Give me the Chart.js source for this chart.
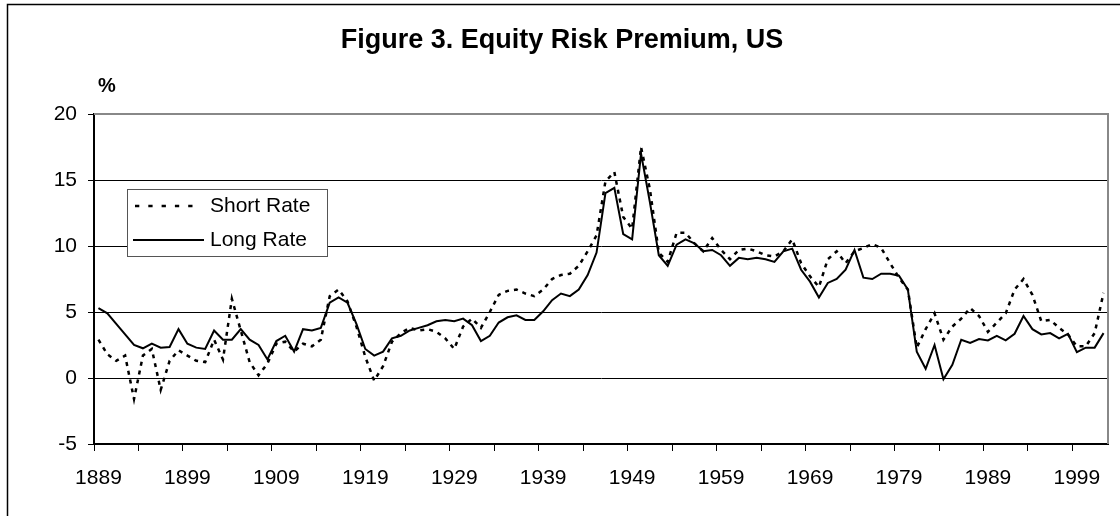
<!DOCTYPE html>
<html>
<head>
<meta charset="utf-8">
<script src="https://cdn.jsdelivr.net/npm/chart.js@4/dist/chart.umd.min.js"></script>
<style>
  html, body { margin: 0; padding: 0; background: #fff; }
  #wrap { width: 1120px; height: 516px; position: relative; }
</style>
</head>
<body>
<div id="wrap"><canvas id="erp" width="1120" height="516"></canvas></div>
<script>
// years on the category axis, 1889 .. 2002
const firstYear = 1889;
const lastYear = 2002;
const years = [];
for (let y = firstYear; y <= lastYear; y++) years.push(String(y));

const yTicks = [-5, 0, 5, 10, 15, 20];

// equity risk premium over short rate (%)
const shortRate = [
	2.9, 1.8, 1.3, 1.7, -1.6, 1.7, 2.2, -0.9, 1.3, 2.1,
	1.7, 1.3, 1.2, 2.9, 1.4, 6.0, 3.6, 1.2, 0.2, 1.1,
	2.6, 2.75, 2.0, 2.6, 2.4, 2.9, 6.2, 6.7, 5.8, 3.9,
	1.6, -0.2, 0.9, 2.75, 3.4, 3.8, 3.6, 3.7, 3.5, 3.0,
	2.2, 3.9, 4.5, 3.8, 5.0, 6.3, 6.6, 6.7, 6.4, 6.2,
	6.7, 7.5, 7.8, 7.9, 8.5, 9.6, 10.8, 14.9, 15.6, 12.2,
	11.3, 17.5, 14.3, 9.5, 8.8, 11.0, 11.0, 10.2, 9.6, 10.6,
	9.7, 9.0, 9.7, 9.8, 9.6, 9.3, 9.2, 9.6, 10.5, 8.7,
	7.7, 6.9, 9.0, 9.6, 8.7, 9.6, 9.85, 10.15, 9.85, 8.7,
	7.6, 6.7, 2.3, 3.7, 4.9, 2.9, 3.9, 4.5, 5.3, 4.7,
	3.5, 4.2, 4.9, 6.7, 7.5, 6.3, 4.3, 4.4, 3.8, 3.3,
	2.4, 2.4, 3.4, 6.45
];

// equity risk premium over long rate (%)
const longRate = [
	5.3, 4.9, 4.1, 3.3, 2.5, 2.25, 2.6, 2.3, 2.35, 3.7,
	2.6, 2.3, 2.2, 3.6, 2.9, 2.9, 3.7, 2.9, 2.5, 1.4,
	2.8, 3.2, 2.0, 3.7, 3.6, 3.8, 5.7, 6.1, 5.7, 4.1,
	2.2, 1.7, 2.0, 3.0, 3.2, 3.6, 3.8, 4.0, 4.3, 4.4,
	4.3, 4.5, 4.0, 2.8, 3.2, 4.2, 4.6, 4.75, 4.4, 4.4,
	5.05, 5.9, 6.4, 6.2, 6.7, 7.8, 9.5, 14.0, 14.4, 10.9,
	10.5, 17.0, 13.3, 9.3, 8.5, 10.1, 10.5, 10.2, 9.6, 9.7,
	9.3, 8.5, 9.1, 9.0, 9.1, 9.0, 8.8, 9.6, 9.8, 8.2,
	7.3, 6.1, 7.2, 7.5, 8.2, 9.7, 7.6, 7.5, 7.9, 7.9,
	7.75, 6.7, 2.0, 0.7, 2.5, -0.1, 1.0, 2.9, 2.65, 2.95,
	2.85, 3.2, 2.85, 3.35, 4.7, 3.7, 3.3, 3.4, 3.0, 3.35,
	1.95, 2.3, 2.3, 3.4
];

const seriesNames = ["Short Rate", "Long Rate"];
const titleText = "Figure 3. Equity Risk Premium, US";
const unitText = "%";

const font = "'Liberation Sans', Arial, sans-serif";

// frame, title, unit label, plot border and legend box
const decorations = {
	id: "decorations",
	beforeDraw(chart) {
		const ctx = chart.ctx;
		ctx.save();
		ctx.fillStyle = "#fff";
		ctx.fillRect(0, 0, chart.width, chart.height);
		ctx.strokeStyle = "#000";
		ctx.lineWidth = 1.5;
		ctx.beginPath();
		ctx.moveTo(7.5, chart.height + 2);
		ctx.lineTo(7.5, 4.5);
		ctx.lineTo(chart.width + 2, 4.5);
		ctx.stroke();
		ctx.restore();
	},
	afterDraw(chart) {
		const ctx = chart.ctx;
		const area = chart.chartArea;
		ctx.save();

		ctx.fillStyle = "#000";
		ctx.textAlign = "center";
		ctx.textBaseline = "alphabetic";
		ctx.font = `bold 27px ${font}`;
		ctx.fillText(titleText, 562, 48);
		ctx.font = `bold 20px ${font}`;
		ctx.fillText(unitText, 107, 92);

		// plot area border (top and right)
		ctx.strokeStyle = "#888";
		ctx.lineWidth = 2;
		ctx.beginPath();
		ctx.moveTo(area.left, area.top);
		ctx.lineTo(area.right, area.top);
		ctx.lineTo(area.right, area.bottom);
		ctx.stroke();

		// legend
		const box = { x: 127.5, y: 189.5, w: 200, h: 67 };
		ctx.fillStyle = "#fff";
		ctx.fillRect(box.x, box.y, box.w, box.h);
		ctx.strokeStyle = "#555";
		ctx.lineWidth = 1;
		ctx.strokeRect(box.x, box.y, box.w, box.h);

		ctx.strokeStyle = "#000";
		ctx.lineWidth = 2.5;
		ctx.setLineDash([4.3, 9]);
		ctx.beginPath();
		ctx.moveTo(135, 206);
		ctx.lineTo(199, 206);
		ctx.stroke();
		ctx.setLineDash([]);
		ctx.lineWidth = 2;
		ctx.beginPath();
		ctx.moveTo(133, 240);
		ctx.lineTo(204, 240);
		ctx.stroke();

		ctx.fillStyle = "#000";
		ctx.textAlign = "left";
		ctx.textBaseline = "middle";
		ctx.font = `21px ${font}`;
		ctx.fillText(seriesNames[0], 210, 206);
		ctx.fillText(seriesNames[1], 210, 240);
		ctx.restore();
	}
};

new Chart(document.getElementById("erp"), {
	type: "line",
	data: {
		labels: years,
		datasets: [
			{
				label: seriesNames[0],
				data: shortRate,
				borderColor: "#000",
				borderWidth: 2.5,
				borderDash: [4, 5],
				pointRadius: 0,
				tension: 0,
				fill: false
			},
			{
				label: seriesNames[1],
				data: longRate,
				borderColor: "#000",
				borderWidth: 2,
				pointRadius: 0,
				tension: 0,
				fill: false
			}
		]
	},
	options: {
		responsive: false,
		animation: false,
		events: [],
		layout: { padding: { left: 0, right: 12, top: 114, bottom: 0 } },
		plugins: {
			legend: { display: false },
			title: { display: false },
			tooltip: { enabled: false }
		},
		scales: {
			x: {
				type: "category",
				offset: true,
				afterFit(scale) { scale.height = 72; },
				border: { color: "#000", width: 2 },
				grid: {
					offset: true,
					drawOnChartArea: false,
					drawTicks: true,
					tickLength: 7,
					tickColor: (c) => (c.index % 5 === 0 ? "#000" : "rgba(0,0,0,0)"),
					lineWidth: 1
				},
				ticks: {
					autoSkip: false,
					maxRotation: 0,
					minRotation: 0,
					padding: 15,
					color: "#000",
					font: { family: font, size: 21 },
					callback: (value, index) => ((index % 10 === 0) ? years[index] : "")
				}
			},
			y: {
				min: -5,
				max: 20,
				afterFit(scale) { scale.width = 94; },
				afterBuildTicks(scale) { scale.ticks = yTicks.map((v) => ({ value: v })); },
				border: { color: "#000", width: 2 },
				grid: {
					color: (c) => (c.tick && c.tick.value === 20 ? "#888" : "#000"),
					lineWidth: 1,
					drawTicks: true,
					tickLength: 6,
					tickColor: "#000"
				},
				ticks: {
					padding: 11,
					color: "#000",
					font: { family: font, size: 21 }
				}
			}
		}
	},
	plugins: [decorations]
});
</script>
</body>
</html>
